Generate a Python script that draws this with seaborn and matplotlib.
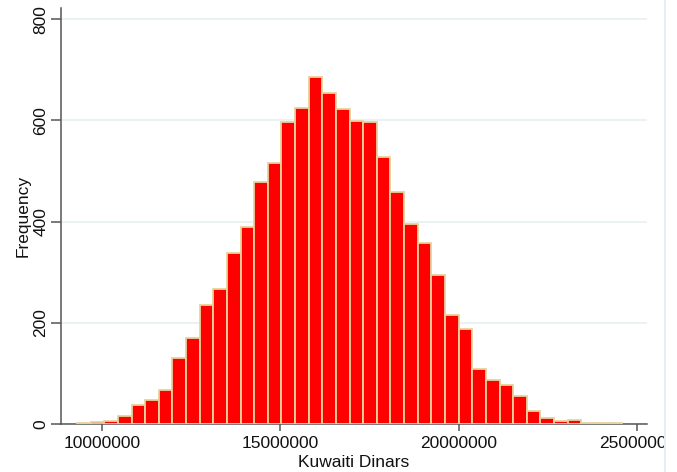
import numpy as np
import pandas as pd
import matplotlib
matplotlib.use("Agg")
import matplotlib.pyplot as plt
import seaborn as sns
from matplotlib.patches import Rectangle
from matplotlib.lines import Line2D

# ---- data ----
bin_start = 9_308_000      # left edge of first bin (Kuwaiti Dinars)
bin_width = 381_700        # width of each of the 40 bins
counts = [1, 3, 6, 15, 37, 47, 68, 130, 170, 235,
          266, 337, 390, 478, 516, 596, 625, 685, 654, 623,
          599, 596, 528, 459, 395, 357, 295, 216, 188, 109,
          86, 78, 55, 25, 12, 5, 7, 2, 1, 1]
x_ticks = [10000000, 15000000, 20000000, 25000000]
y_ticks = [0, 200, 400, 600, 800]
x_label = "Kuwaiti Dinars"
y_label = "Frequency"

n_bins = len(counts)
centers = [bin_start + (i + 0.5) * bin_width for i in range(n_bins)]
df = pd.DataFrame({"value": centers, "count": counts})

sns.set_style("white")
plt.rcParams["font.family"] = ["Liberation Sans", "DejaVu Sans"]

fig = plt.figure(figsize=(6.77, 4.72), dpi=100)
ax = fig.add_axes([61 / 677, 48 / 472, 586 / 677, 416 / 472])

sns.histplot(data=df, x="value", weights="count", bins=n_bins,
             binrange=(bin_start, bin_start + n_bins * bin_width),
             color="#FF0000", edgecolor="#E6D29E", linewidth=1.3,
             alpha=1.0, ax=ax, zorder=3)

ax.set_xlim(8_860_000, 25_270_000)
ax.set_ylim(0, 822)
ax.set_xticks(x_ticks)
ax.set_xticklabels([str(t) for t in x_ticks])
ax.set_yticks(y_ticks)
ax.set_yticklabels([str(t) for t in y_ticks])

ax.grid(axis="y", color="#E8F0F2", linewidth=1.2, zorder=0)
ax.grid(axis="x", visible=False)
ax.set_axisbelow(True)

for s in ["top", "right"]:
    ax.spines[s].set_visible(False)
for s in ["left", "bottom"]:
    ax.spines[s].set_color("#555555")
    ax.spines[s].set_linewidth(1.1)

fs = 12.5
ax.tick_params(axis="x", direction="out", length=5, width=1.1, color="#555555",
               labelsize=fs, pad=4, labelcolor="#111111", bottom=True)
ax.tick_params(axis="y", direction="out", length=7, width=1.1, color="#555555",
               labelsize=fs, pad=2, labelcolor="#111111", left=True,
               labelrotation=90)
for lab in ax.get_yticklabels():
    lab.set_va("center")

ax.set_xlabel(x_label, fontsize=fs, color="#111111", labelpad=2.5)
ax.set_ylabel(y_label, fontsize=fs, color="#111111", labelpad=2)

# graph region right border (clips the last tick label as in the reference)
fig.patches.append(Rectangle((664.5 / 677, 0), 1, 1, transform=fig.transFigure,
                             facecolor="white", edgecolor="none", zorder=10))
fig.lines.append(Line2D([664.5 / 677, 664.5 / 677], [0, 1], transform=fig.transFigure,
                        color="#E6EEF4", linewidth=1.5, zorder=11))

fig.savefig("out.png", dpi=100)
